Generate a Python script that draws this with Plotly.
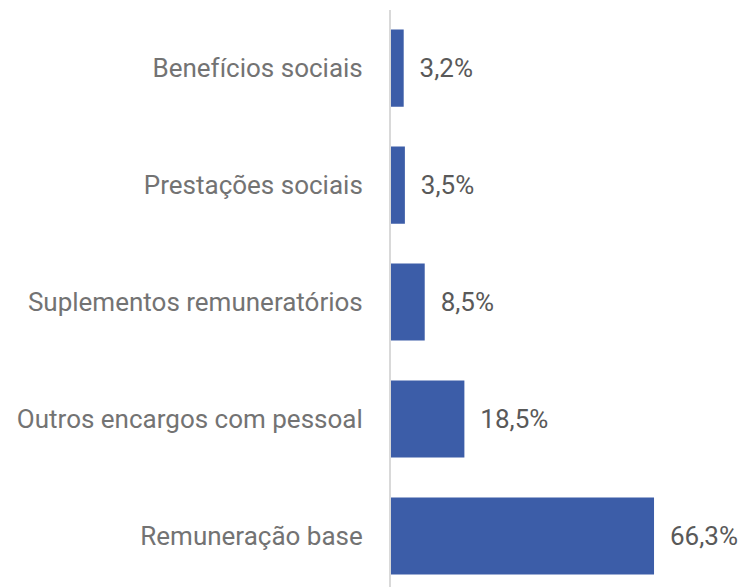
import plotly.graph_objects as go

categorias = ["Remuneração base", "Outros encargos com pessoal", "Suplementos remuneratórios",
              "Prestações sociais", "Benefícios sociais"]
valores = [66.3, 18.5, 8.5, 3.5, 3.2]
rotulos = ["66,3%", "18,5%", "8,5%", "3,5%", "3,2%"]

fig = go.Figure(go.Bar(
    x=valores, y=categorias, orientation="h",
    marker=dict(color="#3C5DA8", line=dict(width=0)),
    text=rotulos, texttemplate="\u00a0\u00a0%{text}",
    textposition="outside", cliponaxis=False, constraintext="none",
    textfont=dict(color="#595959", size=26),
))

# a página tem 8px de margem no body, por isso a figura é 8px mais pequena
fig.update_layout(
    width=746, height=579,
    margin=dict(l=383, r=0, t=2, b=0),
    paper_bgcolor="white", plot_bgcolor="white",
    font=dict(family="Roboto", size=26, color="#737373"),
    bargap=0.34,
    showlegend=False,
)
fig.update_xaxes(range=[0, 91.5], visible=False)
fig.update_yaxes(range=[-0.436, 4.496], showline=True, linecolor="#d9d9d9", linewidth=2,
                 showgrid=False, ticks="", ticklabelstandoff=21)

fig.write_html("out.html")
